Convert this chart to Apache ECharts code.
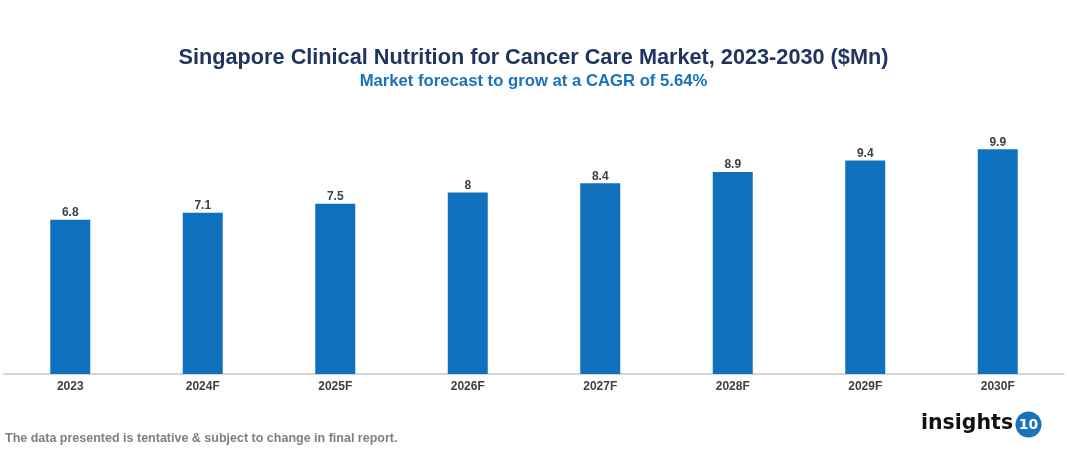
<!DOCTYPE html>
<html><head><meta charset="utf-8">
<script src="https://cdn.jsdelivr.net/npm/echarts@6/dist/echarts.min.js"></script>
<style>html,body{margin:0;padding:0;background:#fff}#c{width:1067px;height:454px}</style>
</head><body><div id="c"></div>
<script>
const categories = ['2023','2024F','2025F','2026F','2027F','2028F','2029F','2030F'];
const values = [6.8, 7.1, 7.5, 8, 8.4, 8.9, 9.4, 9.9];
const titleText = 'Singapore Clinical Nutrition for Cancer Care Market, 2023-2030 ($Mn)';
const subtitleText = 'Market forecast to grow at a CAGR of 5.64%';
const footerText = 'The data presented is tentative & subject to change in final report.';

const chart = echarts.init(document.getElementById('c'));
const F = '"Liberation Sans", Arial, sans-serif';
chart.setOption({
  animation: false,
  title: {
    text: titleText, subtext: subtitleText, left: 'center', top: 42, itemGap: 4,
    textStyle: {fontFamily: F, fontSize: 21.7, fontWeight: 'bold', color: '#1f3560'},
    subtextStyle: {fontFamily: F, fontSize: 16.7, fontWeight: 'bold', color: '#1a72bb'}
  },
  grid: {left: 4, right: 3, top: 147, bottom: 80},
  xAxis: {
    type: 'category', data: categories,
    axisLine: {lineStyle: {color: '#c8c8c8', width: 1.5}},
    axisTick: {show: false},
    axisLabel: {fontFamily: F, fontSize: 12, fontWeight: 'bold', color: '#404040', margin: 7}
  },
  yAxis: {type: 'value', min: 0, max: 10, show: false, splitLine: {show: false}},
  series: [{
    type: 'bar', data: values, barWidth: 40,
    itemStyle: {color: '#0f70bd'},
    label: {show: true, position: 'top', distance: 1, fontFamily: F, fontSize: 12, fontWeight: 'bold', color: '#404040'}
  }],
  graphic: [
    {type: 'text', left: 5, top: 432, style: {text: footerText, font: 'bold 12.5px "Liberation Sans", Arial, sans-serif', fill: '#7f7f7f'}},
    {type: 'text', left: 921, top: 413, style: {text: 'insights', font: 'bold 20.5px "DejaVu Sans", "Liberation Sans", sans-serif', fill: '#111'}},
    {type: 'circle', shape: {cx: 1028.5, cy: 424.5, r: 13}, style: {fill: '#1a72bb'}},
    {type: 'text', x: 1028.5, y: 425, style: {text: '10', font: 'bold 14px "DejaVu Sans", sans-serif', fill: '#fff', align: 'center', verticalAlign: 'middle'}}
  ]
});
</script></body></html>
